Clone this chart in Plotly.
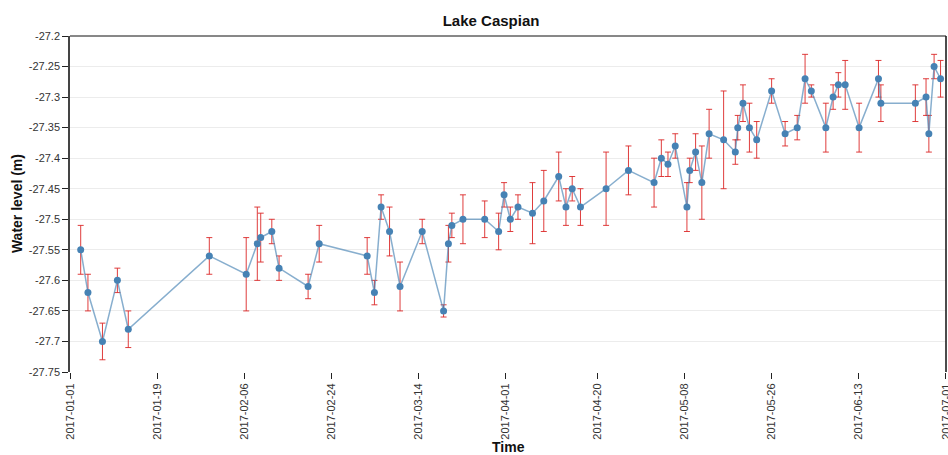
import plotly.graph_objects as go

dates = [
    "2017-01-03 05:00", "2017-01-04 17:00", "2017-01-07 17:00", "2017-01-10 19:00",
    "2017-01-13 01:00", "2017-01-29 19:00", "2017-02-06 10:00", "2017-02-08 17:00",
    "2017-02-09 10:00", "2017-02-11 17:00", "2017-02-13 05:00", "2017-02-19 05:00",
    "2017-02-21 12:00", "2017-03-03 10:00", "2017-03-04 22:00", "2017-03-06 07:00",
    "2017-03-08 01:00", "2017-03-10 05:00", "2017-03-14 19:00", "2017-03-19 05:00",
    "2017-03-20 05:00", "2017-03-20 22:00", "2017-03-23 05:00", "2017-03-27 17:00",
    "2017-03-30 14:00", "2017-03-31 17:00", "2017-04-02 00:00", "2017-04-03 14:00",
    "2017-04-06 14:00", "2017-04-08 22:00", "2017-04-12 00:00", "2017-04-13 12:00",
    "2017-04-14 19:00", "2017-04-16 12:00", "2017-04-21 19:00", "2017-04-26 10:00",
    "2017-05-01 17:00", "2017-05-03 05:00", "2017-05-04 14:00", "2017-05-06 02:00",
    "2017-05-08 12:00", "2017-05-09 02:00", "2017-05-10 07:00", "2017-05-11 14:00",
    "2017-05-13 02:00", "2017-05-16 02:00", "2017-05-18 12:00", "2017-05-19 00:00",
    "2017-05-20 02:00", "2017-05-21 10:00", "2017-05-22 22:00", "2017-05-26 00:00",
    "2017-05-28 19:00", "2017-05-31 07:00", "2017-06-01 22:00", "2017-06-03 05:00",
    "2017-06-06 05:00", "2017-06-07 17:00", "2017-06-08 19:00", "2017-06-10 05:00",
    "2017-06-13 02:00", "2017-06-17 02:00", "2017-06-17 14:00", "2017-06-24 17:00",
    "2017-06-26 22:00", "2017-06-27 12:00", "2017-06-28 14:00", "2017-06-29 22:00",
]

# Water level (m)
levels = [
    -27.55, -27.62, -27.70, -27.60, -27.68, -27.56, -27.59, -27.54,
    -27.53, -27.52, -27.58, -27.61, -27.54, -27.56, -27.62, -27.48,
    -27.52, -27.61, -27.52, -27.65, -27.54, -27.51, -27.50, -27.50,
    -27.52, -27.46, -27.50, -27.48, -27.49, -27.47, -27.43, -27.48,
    -27.45, -27.48, -27.45, -27.42, -27.44, -27.40, -27.41, -27.38,
    -27.48, -27.42, -27.39, -27.44, -27.36, -27.37, -27.39, -27.35,
    -27.31, -27.35, -27.37, -27.29, -27.36, -27.35, -27.27, -27.29,
    -27.35, -27.30, -27.28, -27.28, -27.35, -27.27, -27.31, -27.31,
    -27.30, -27.36, -27.25, -27.27,
]

# Uncertainty (m)
errors = [
    0.04, 0.03, 0.03, 0.02, 0.03, 0.03, 0.06, 0.06,
    0.04, 0.02, 0.02, 0.02, 0.03, 0.03, 0.02, 0.02,
    0.04, 0.04, 0.02, 0.01, 0.03, 0.02, 0.04, 0.03,
    0.03, 0.02, 0.02, 0.02, 0.05, 0.05, 0.04, 0.03,
    0.02, 0.03, 0.06, 0.04, 0.04, 0.03, 0.02, 0.02,
    0.04, 0.02, 0.03, 0.06, 0.04, 0.08, 0.02, 0.02,
    0.03, 0.04, 0.03, 0.02, 0.02, 0.02, 0.04, 0.01,
    0.04, 0.02, 0.02, 0.04, 0.04, 0.03, 0.03, 0.03,
    0.03, 0.03, 0.02, 0.03,
]

x_tick_vals = ["2017-01-01", "2017-01-19", "2017-02-06", "2017-02-24", "2017-03-14",
               "2017-04-01", "2017-04-20", "2017-05-08", "2017-05-26", "2017-06-13",
               "2017-07-01"]
y_tick_vals = [-27.75, -27.7, -27.65, -27.6, -27.55, -27.5, -27.45, -27.4,
               -27.35, -27.3, -27.25, -27.2]
y_tick_text = ["-27.75", "-27.7", "-27.65", "-27.6", "-27.55", "-27.5", "-27.45",
               "-27.4", "-27.35", "-27.3", "-27.25", "-27.2"]

FONT = "Liberation Sans, Arial, sans-serif"

fig = go.Figure()
fig.add_trace(go.Scatter(
    x=dates, y=levels,
    mode="lines+markers",
    line=dict(color="rgba(70,130,180,0.65)", width=1.5),
    marker=dict(color="#4682b4", size=7),
    error_y=dict(type="data", array=errors, visible=True,
                 color="rgba(220,40,40,0.9)", thickness=1, width=3),
    showlegend=False,
))

fig.update_layout(
    width=948, height=455,
    margin=dict(l=70, r=2, t=36, b=83),
    paper_bgcolor="white", plot_bgcolor="white",
    font=dict(family=FONT, size=11, color="#333"),
    title=dict(text="<b>Lake Caspian</b>", x=0.518, xref="container", xanchor="center",
               y=0.955, yref="container", yanchor="middle",
               font=dict(family=FONT, size=15, color="#111")),
    xaxis=dict(
        type="date", range=["2017-01-01", "2017-07-01 01:00"], automargin=False,
        tickmode="array", tickvals=x_tick_vals, ticktext=x_tick_vals,
        tickangle=-90, ticks="outside", ticklen=6, tickcolor="#222",
        showgrid=False, showline=False, zeroline=False,
        tickfont=dict(family=FONT, size=11, color="#333"),
    ),
    yaxis=dict(
        range=[-27.75, -27.2], automargin=False,
        tickmode="array", tickvals=y_tick_vals, ticktext=y_tick_text,
        ticks="outside", ticklen=6, tickcolor="#222",
        showgrid=True, gridcolor="#ececec", gridwidth=1,
        showline=True, linecolor="#444", linewidth=1.5, zeroline=False,
        tickfont=dict(family=FONT, size=11, color="#333"),
    ),
    shapes=[
        dict(type="line", xref="paper", yref="paper", x0=0, x1=1, y0=1, y1=1,
             line=dict(color="#111", width=1)),
        dict(type="line", xref="paper", yref="paper", x0=1, x1=1, y0=0, y1=1,
             line=dict(color="#111", width=1.5)),
    ],
    annotations=[
        dict(text="<b>Water level (m)</b>", xref="paper", yref="paper",
             x=-0.0604, y=0.5, xanchor="center", yanchor="middle",
             textangle=-90, showarrow=False,
             font=dict(family=FONT, size=14, color="#111")),
        dict(text="<b>Time</b>", xref="paper", yref="paper",
             x=0.5, y=-0.223, xanchor="center", yanchor="middle",
             showarrow=False, font=dict(family=FONT, size=14, color="#111")),
        # last tick label, partly cut by the right edge as in the reference
        dict(text=x_tick_vals[-1], xref="x", yref="paper",
             x=x_tick_vals[-1], y=0, yshift=-10, xanchor="center", yanchor="top",
             textangle=-90, showarrow=False,
             font=dict(family=FONT, size=11, color="#333")),
    ],
)

fig.write_html(
    "out.html",
    config={"displayModeBar": False},
    post_script="document.body.style.margin='0';document.body.style.padding='0';",
)
